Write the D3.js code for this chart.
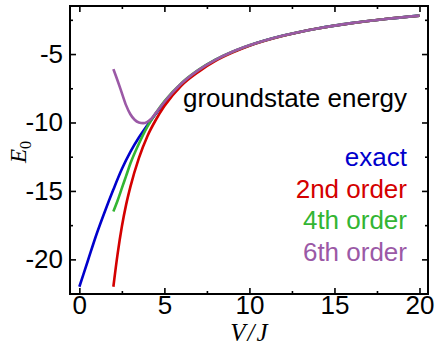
<!DOCTYPE html>
<html>
<head>
<meta charset="utf-8">
<script src="https://cdn.jsdelivr.net/npm/d3@7"></script>
<style>
  body { margin: 0; background: #fff; }
  svg { display: block; }
  .tick text { font-family: "Liberation Sans", Arial, sans-serif; }
</style>
</head>
<body>
<div id="chart"></div>
<script>
// values
const vExact = [0, 0.5, 1, 1.5, 2, 2.5, 3, 3.5, 4, 4.5, 5, 6, 7, 8, 9, 10, 12, 14, 16, 18, 20];
const eExact = [-22.0, -20.1, -18.2, -16.5, -14.9, -13.4, -12.15, -11.1, -10.2, -9.35, -8.6, -7.2, -6.2, -5.43, -4.84, -4.37, -3.65, -3.13, -2.74, -2.44, -2.19];

const vOrder = [2, 2.25, 2.5, 2.75, 3, 3.5, 4, 4.5, 5, 6, 7, 8, 9, 10, 12, 14, 16, 18, 20];
const e2nd = [-22.0, -19.6, -17.6, -16.0, -14.7, -12.6, -11.0, -9.8, -8.8, -7.3, -6.3, -5.5, -4.9, -4.4, -3.67, -3.14, -2.75, -2.44, -2.2];
const e4th = [-16.5, -15.7, -14.8, -13.9, -13.0, -11.55, -10.3, -9.3, -8.45, -7.13, -6.16, -5.41, -4.83, -4.36, -3.64, -3.13, -2.74, -2.44, -2.19];

const v6th = [2, 2.25, 2.5, 2.75, 3, 3.25, 3.5, 3.75, 4, 4.25, 4.5, 5, 6, 7, 8, 9, 10, 12, 14, 16, 18, 20];
const e6th = [-6.1, -6.95, -7.85, -8.75, -9.4, -9.8, -10.0, -10.05, -9.95, -9.7, -9.3, -8.5, -7.15, -6.17, -5.42, -4.83, -4.36, -3.64, -3.13, -2.74, -2.44, -2.19];

const xMajor = [0, 5, 10, 15, 20];
const xMinor = [2.5, 7.5, 12.5, 17.5];
const yMajor = [-5, -10, -15, -20];
const yMinor = [-2.5, -7.5, -12.5, -17.5, -22.5];

const legendLabels = ["exact", "2nd order", "4th order", "6th order"];
const colors = ["#0000cc", "#d40000", "#33b533", "#9b59a6"];

const _width = 436, _height = 346;
const _left = 70, _right = 428, _top = 6, _bottom = 294;

const svg = d3.select("#chart").append("svg")
  .attr("width", _width)
  .attr("height", _height);

const x = d3.scaleLinear().domain([-0.55, 20.5]).range([_left, _right]);
const y = d3.scaleLinear().domain([-22.53, -1.49]).range([_bottom, _top]);

const line = d3.line()
  .x(d => x(d[0]))
  .y(d => y(d[1]))
  .curve(d3.curveMonotoneX);

const series = [
  d3.zip(vExact, eExact),
  d3.zip(vOrder, e2nd),
  d3.zip(vOrder, e4th),
  d3.zip(v6th, e6th)
];

svg.append("g").selectAll("path")
  .data(series)
  .enter()
  .append("path")
  .attr("d", d => line(d))
  .style("fill", "none")
  .style("stroke", (d, i) => colors[i])
  .style("stroke-width", "2.6px")
  .style("stroke-linecap", "butt");

// axes, ticks pointing inward
const fmt = d => String(d);
const fontSize = "26px";

function styleAxis(g) {
  g.select(".domain").remove();
  g.selectAll(".tick line").style("stroke", "#000").style("stroke-width", "1.6px");
  g.selectAll(".tick text").style("font-size", fontSize).style("fill", "#000");
}

svg.append("g")
  .attr("transform", "translate(0," + _bottom + ")")
  .call(d3.axisBottom(x).tickValues(xMajor).tickSize(-6).tickPadding(2).tickFormat(fmt))
  .call(styleAxis);
svg.append("g")
  .attr("transform", "translate(0," + _bottom + ")")
  .call(d3.axisBottom(x).tickValues(xMinor).tickSize(-3).tickFormat(""))
  .call(styleAxis);
svg.append("g")
  .attr("transform", "translate(0," + _top + ")")
  .call(d3.axisTop(x).tickValues(xMajor).tickSize(-6).tickFormat(""))
  .call(styleAxis);
svg.append("g")
  .attr("transform", "translate(0," + _top + ")")
  .call(d3.axisTop(x).tickValues(xMinor).tickSize(-3).tickFormat(""))
  .call(styleAxis);

svg.append("g")
  .attr("transform", "translate(" + _left + ",0)")
  .call(d3.axisLeft(y).tickValues(yMajor).tickSize(-6).tickPadding(7).tickFormat(fmt))
  .call(styleAxis);
svg.append("g")
  .attr("transform", "translate(" + _left + ",0)")
  .call(d3.axisLeft(y).tickValues(yMinor).tickSize(-3).tickFormat(""))
  .call(styleAxis);
svg.append("g")
  .attr("transform", "translate(" + _right + ",0)")
  .call(d3.axisRight(y).tickValues(yMajor).tickSize(-6).tickFormat(""))
  .call(styleAxis);
svg.append("g")
  .attr("transform", "translate(" + _right + ",0)")
  .call(d3.axisRight(y).tickValues(yMinor).tickSize(-3).tickFormat(""))
  .call(styleAxis);

svg.append("rect")
  .attr("x", _left)
  .attr("y", _top)
  .attr("width", _right - _left)
  .attr("height", _bottom - _top)
  .style("fill", "none")
  .style("stroke", "#000")
  .style("stroke-width", "2px");

// annotations
svg.append("text")
  .attr("x", 407)
  .attr("y", 107)
  .attr("text-anchor", "end")
  .style("font-family", "Liberation Sans, Arial, sans-serif")
  .style("font-size", fontSize)
  .text("groundstate energy");

svg.append("g").selectAll("text")
  .data(legendLabels)
  .enter()
  .append("text")
  .attr("x", 407)
  .attr("y", (d, i) => 166 + i * 31.7)
  .attr("text-anchor", "end")
  .style("font-family", "Liberation Sans, Arial, sans-serif")
  .style("font-size", fontSize)
  .style("fill", (d, i) => colors[i])
  .text(d => d);

// axis titles
const xTitle = svg.append("text")
  .attr("x", (_left + _right) / 2)
  .attr("y", 341)
  .attr("text-anchor", "middle")
  .style("font-family", "Liberation Serif, 'Times New Roman', serif")
  .style("font-style", "italic")
  .style("font-size", "25px");
xTitle.append("tspan").text("V");
xTitle.append("tspan").attr("dx", 2).text("/");
xTitle.append("tspan").attr("dx", 2).text("J");

const yTitle = svg.append("text")
  .attr("transform", "translate(26," + ((_top + _bottom) / 2 + 2) + ") rotate(-90)")
  .attr("text-anchor", "middle")
  .style("font-family", "Liberation Serif, 'Times New Roman', serif")
  .style("font-size", "23px");
yTitle.append("tspan").style("font-style", "italic").text("E");
yTitle.append("tspan").attr("dy", 5).style("font-size", "16px").text("0");
</script>
</body>
</html>
